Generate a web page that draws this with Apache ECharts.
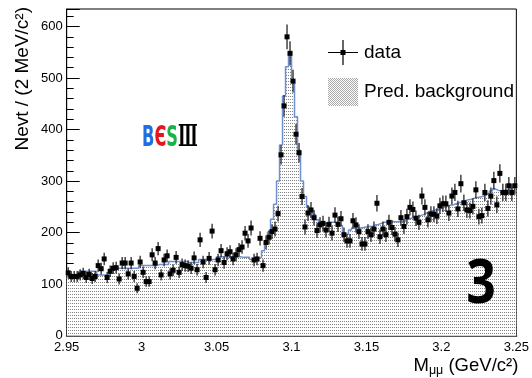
<!DOCTYPE html>
<html>
<head>
<meta charset="utf-8">
<script src="https://cdn.jsdelivr.net/npm/echarts@6/dist/echarts.min.js"></script>
<style>
html,body{margin:0;padding:0;background:#fff;}
#chart{width:532px;height:378px;}
</style>
</head>
<body>
<div id="chart"></div>
<script>
// ---- binning ----
const xMin = 2.95, xMax = 3.25, binWidth = 0.002;

// ---- observed data (events per 2 MeV bin) ----
const dataCounts = [
  122,115,115,115,118,121,113,119,111,115,
  136,130,149,113,125,131,132,110,141,141,
  120,141,115, 92,143,123,105,105,157,141,
  169,118,147,155,120,127,152,123,138,136,
  135,131,151,128,186,143,113,150,203,128,
  147,165,142,159,163,149,157,167,172,199,
  184,209,147,149,189,136,181,191,202,207,
  237,351,446,580,548,494,391,355,270,211,
  238,244,229,204,215,218,205,216,199,234,
  216,227,196,184,184,223,215,202,178,178,
  202,196,207,257,192,207,196,220,210,197,
  186,229,212,231,249,245,228,220,271,249,
  225,236,236,232,252,256,256,238,271,278,
  246,295,258,244,243,251,283,231,233,278,
  247,271,301,254,315,278,278,291,278,291
];

// ---- predicted background histogram ----
const bgCounts = [
  118,118,118,118,125,125,125,125,125,125,
  118,118,118,118,128,128,131,131,131,131,
  131,131,131,131,136,136,136,136,136,136,
  138,138,138,138,144,144,144,144,144,144,
  142,142,142,142,148,148,148,148,148,148,
  153,153,153,153,153,153,153,153,152,152,
  152,148,148,150,152,165,182,201,226,255,
  300,370,465,522,550,492,425,360,300,270,
  250,245,235,225,220,218,218,220,220,220,
  220,214,195,198,205,209,209,209,210,211,
  212,212,215,216,218,220,220,221,221,221,
  221,222,222,226,228,230,231,233,235,238,
  241,242,244,245,247,249,251,253,254,256,
  258,260,262,264,265,267,268,269,271,274,
  277,281,285,282,281,282,283,285,287,290
];

const yTickMax = 634;
const legendNames = ['data', 'Pred. background'];

// build series data through the axis scales
const pointData = dataCounts.map((v, i) => [xMin + binWidth * (i + 0.5), v, Math.sqrt(v)]);
const bgData = bgCounts.map((v, i) => [xMin + binWidth * i, v]);
bgData.push([xMax, bgCounts[bgCounts.length - 1]]);

function makePattern(w, h, dots, color) {
  const c = document.createElement('canvas');
  c.width = w; c.height = h;
  const g = c.getContext('2d');
  g.fillStyle = '#ffffff'; g.fillRect(0, 0, w, h);
  g.fillStyle = color;
  dots.forEach(d => g.fillRect(d[0], d[1], 1, 1));
  return c;
}
const areaPattern = { image: makePattern(2, 3, [[0, 0]], '#808080'), repeat: 'repeat' };
const legendPattern = { image: makePattern(2, 2, [[0, 0], [1, 1]], '#a8a8a8'), repeat: 'repeat' };

const FONT = '"Liberation Sans", Arial, Helvetica, sans-serif';
const chart = echarts.init(document.getElementById('chart'), null, { renderer: 'canvas' });

const option = {
  animation: false,
  backgroundColor: '#fff',
  grid: { left: 66.7, right: 12, top: 9, bottom: 42.3, show: true, borderColor: '#000', borderWidth: 1, backgroundColor: '#fff' },
  legend: {
    orient: 'vertical', left: 328, top: 40, padding: 0,
    itemWidth: 30, itemHeight: 28, itemGap: 13,
    textStyle: { fontFamily: FONT, fontSize: 19, color: '#000', padding: [0, 0, 0, 1] },
    data: [
      { name: legendNames[0], icon: 'path://M0 11.9H30V13.1H0Z M14.4 0H15.6V25H14.4Z M12.5 10H17.5V15H12.5Z', itemStyle: { color: '#000' } },
      { name: legendNames[1], icon: 'rect', itemStyle: { color: legendPattern, borderWidth: 0 }, lineStyle: { width: 0 } }
    ]
  },
  xAxis: [{
    type: 'value', min: xMin, max: xMax, interval: 0.05,
    axisLine: { show: true, onZero: false, lineStyle: { color: '#000', width: 1 } },
    axisTick: { show: true, inside: true, length: 9, lineStyle: { color: '#000' } },
    minorTick: { show: true, splitNumber: 5, length: 4.5, lineStyle: { color: '#000' } },
    splitLine: { show: false },
    axisLabel: { fontFamily: FONT, fontSize: 13, color: '#000', margin: 5 },
    name: 'M{sub|μμ} (GeV/c²)',
    nameLocation: 'end', nameGap: 2,
    nameTextStyle: {
      fontFamily: FONT, fontSize: 18.5, color: '#000', align: 'right', verticalAlign: 'top', padding: [19, 0, 0, 0],
      rich: { sub: { fontFamily: FONT, fontSize: 12.5, color: '#000', verticalAlign: 'bottom', padding: [9, 0, 0, 0] } }
    }
  }, {
    type: 'value', position: 'top', min: xMin, max: xMax,
    axisLine: { show: true, lineStyle: { color: '#555', width: 2 } },
    axisTick: { show: false }, axisLabel: { show: false }, splitLine: { show: false }
  }],
  yAxis: {
    type: 'value', min: 0, max: yTickMax, interval: 100,
    axisLine: { show: true, onZero: false, lineStyle: { color: '#000', width: 1 } },
    axisTick: { show: true, inside: true, length: 13, lineStyle: { color: '#000' } },
    minorTick: { show: true, splitNumber: 5, length: 7, lineStyle: { color: '#000' } },
    splitLine: { show: false },
    axisLabel: { fontFamily: FONT, fontSize: 13, color: '#000', margin: 4, showMaxLabel: false },
    name: 'Nevt / (2 MeV/c²)',
    nameLocation: 'end', nameRotate: 90, nameGap: 2,
    nameTextStyle: { fontFamily: FONT, fontSize: 19, color: '#000', align: 'right', verticalAlign: 'bottom', padding: [0, 0, 34, 0] }
  },
  series: [
    {
      name: legendNames[1], type: 'line', step: 'end', data: bgData,
      symbol: 'none', z: 2,
      lineStyle: { color: '#6e8fd2', width: 1.5 },
      itemStyle: { color: '#6e8fd2' },
      areaStyle: { color: areaPattern, opacity: 1 }
    },
    {
      name: legendNames[0], type: 'custom', data: pointData, z: 5,
      itemStyle: { color: '#000' },
      renderItem: function (params, api) {
        const x = api.value(0), y = api.value(1), e = api.value(2);
        const p = api.coord([x, y]);
        const t = api.coord([x, y + e]);
        const b = api.coord([x, y - e]);
        return {
          type: 'group', children: [
            { type: 'line', shape: { x1: p[0], y1: t[1], x2: p[0], y2: b[1] }, style: { stroke: '#262626', lineWidth: 1.3 } },
            { type: 'rect', shape: { x: p[0] - 2.5, y: p[1] - 2.5, width: 5, height: 5 }, style: { fill: '#000' } }
          ]
        };
      }
    }
  ],
  graphic: [
    {
      type: 'text', x: 142, y: 124, scaleX: 0.56, z: 10,
      style: {
        text: '{b|B}{e|Є}{s|S}{r|Ⅲ}',
        rich: {
          b: { fontFamily: '"DejaVu Sans", sans-serif', fontWeight: 'bold', fontSize: 29, fill: '#1e6fe0', color: '#1e6fe0' },
          e: { fontFamily: '"DejaVu Sans", sans-serif', fontWeight: 'bold', fontSize: 29, fill: '#e8141c', color: '#e8141c' },
          s: { fontFamily: '"DejaVu Sans", sans-serif', fontWeight: 'bold', fontSize: 29, fill: '#1ab34a', color: '#1ab34a' },
          r: { fontFamily: '"DejaVu Serif", serif', fontWeight: 'bold', fontSize: 29, fill: '#000', color: '#000' }
        }
      }
    },
    {
      type: 'text', x: 481, y: 286, scaleX: 0.85, z: 10,
      style: { text: '3', font: 'bold 61px "Open Sans", "Liberation Sans", sans-serif', fill: '#000', align: 'center', verticalAlign: 'middle' }
    }
  ]
};
chart.setOption(option);
</script>
</body>
</html>
